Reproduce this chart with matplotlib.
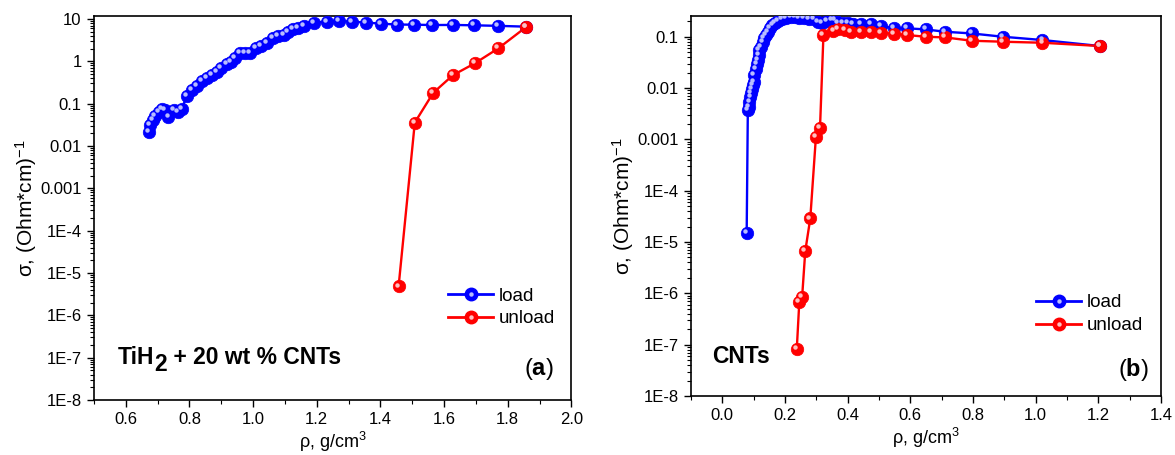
import numpy as np
import matplotlib
matplotlib.use("Agg")
import matplotlib.pyplot as plt
from matplotlib.ticker import FixedLocator, FuncFormatter, MultipleLocator, LogLocator, NullFormatter
from matplotlib.transforms import ScaledTranslation
from matplotlib.lines import Line2D
from matplotlib.legend_handler import HandlerTuple

plt.rcParams['font.family'] = ['Liberation Sans', 'DejaVu Sans']
plt.rcParams['mathtext.fontset'] = 'custom'
plt.rcParams['mathtext.rm'] = 'Liberation Sans'
plt.rcParams['mathtext.it'] = 'Liberation Sans:italic'
plt.rcParams['mathtext.bf'] = 'Liberation Sans:bold'

# ---- (a) TiH2 + 20 wt % CNTs ----
rho_a_load = [0.672, 0.677, 0.684, 0.692, 0.703, 0.713, 0.722, 0.734, 0.750, 0.763,
              0.776, 0.791, 0.807, 0.823, 0.838, 0.854, 0.870, 0.885, 0.899, 0.917,
              0.930, 0.942, 0.958, 0.974, 0.989, 1.010, 1.026, 1.042, 1.062, 1.078,
              1.097, 1.109, 1.125, 1.141, 1.159, 1.190, 1.232, 1.271, 1.310, 1.355,
              1.403, 1.452, 1.506, 1.563, 1.627, 1.694, 1.768, 1.857]
sig_a_load = [0.0218, 0.0313, 0.041, 0.051, 0.0646, 0.0748, 0.0708, 0.0492, 0.0708, 0.0646,
              0.0736, 0.152, 0.21, 0.261, 0.343, 0.41, 0.475, 0.569, 0.684, 0.865,
              0.98, 1.18, 1.55, 1.6, 1.55, 2.03, 2.3, 2.67, 3.5, 3.97,
              4.19, 5.0, 5.7, 6.03, 6.84, 8.18, 8.6, 9.0, 8.6, 8.25,
              7.75, 7.4, 7.35, 7.2, 7.25, 7.1, 6.9, 6.6]
rho_a_unload = [1.457, 1.508, 1.566, 1.628, 1.696, 1.770, 1.857]
sig_a_unload = [4.8e-6, 0.0359, 0.181, 0.473, 0.893, 2.02, 6.4]

# ---- (b) CNTs ----
rho_b_load = [0.078, 0.0817, 0.0848, 0.087, 0.0901, 0.0922, 0.0954, 0.0975, 0.1006, 0.1027,
              0.108, 0.110, 0.1131, 0.1163, 0.1185, 0.1238, 0.1289, 0.1342, 0.1396, 0.1446,
              0.1522, 0.1604, 0.1689, 0.1793, 0.1919, 0.2045, 0.2183, 0.2319, 0.2445, 0.2602,
              0.2759, 0.2917, 0.3053, 0.3179, 0.3337, 0.3494, 0.360, 0.3704, 0.3862, 0.402,
              0.4178, 0.444, 0.476, 0.507, 0.549, 0.591, 0.649, 0.712, 0.796, 0.896,
              1.022, 1.205]
sig_b_load = [1.5e-5, 0.00372, 0.00432, 0.0054, 0.00659, 0.00788, 0.00944, 0.0114, 0.0133, 0.0179,
              0.0231, 0.0294, 0.0351, 0.044, 0.055, 0.0638, 0.08, 0.093, 0.108, 0.125,
              0.146, 0.169, 0.188, 0.205, 0.221, 0.235, 0.24, 0.24, 0.235, 0.229,
              0.221, 0.221, 0.196, 0.188, 0.202, 0.21, 0.21, 0.188, 0.182, 0.182,
              0.177, 0.177, 0.177, 0.162, 0.146, 0.146, 0.139, 0.125, 0.116, 0.1,
              0.0863, 0.066]
rho_b_unload = [0.238, 0.246, 0.255, 0.265, 0.281, 0.299, 0.312, 0.323, 0.355, 0.370,
                0.392, 0.412, 0.444, 0.476, 0.507, 0.549, 0.591, 0.649, 0.712, 0.796,
                0.896, 1.022, 1.205]
sig_b_unload = [8.4e-8, 6.83e-7, 8.55e-7, 6.65e-6, 2.88e-5, 0.00112, 0.00164, 0.108, 0.131, 0.139,
                0.135, 0.125, 0.125, 0.125, 0.12, 0.113, 0.108, 0.1, 0.097, 0.0836,
                0.08, 0.0764, 0.066]

series_labels = ["load", "unload"]
BLUE, RED = "#0000ff", "#ff0000"
BLUE_HI, RED_HI = "#b8bcff", "#ffc0c0"

fig = plt.figure(figsize=(11.75, 4.55), dpi=100)
ax_a = fig.add_axes([0.0800, 0.1209, 0.4063, 0.844])
ax_b = fig.add_axes([0.588, 0.1297, 0.4000, 0.835])

MS = 9


def ball_series(ax, x, y, color, hi):
    ax.plot(x, y, '-', color=color, lw=1.7, zorder=2)
    ax.plot(x, y, 'o', ls='none', ms=MS, color=color, mec=color, mew=0.5, zorder=3)
    shift = ax.transData + ScaledTranslation(-1.4 / 72, 1.4 / 72, fig.dpi_scale_trans)
    ax.plot(x, y, 'o', ls='none', ms=3.2, color=hi, mec='none', transform=shift, zorder=4)


def fmt_log(v, pos):
    e = int(round(np.log10(v)))
    if e >= 1:
        return "%d" % (10 ** e)
    if e == 0:
        return "1"
    if e >= -3:
        return ("%." + str(-e) + "f") % (10.0 ** e)
    return "1E%d" % e


def style_axes(ax, xlim, ylim, xmaj):
    ax.set_yscale('log')
    ax.set_xlim(*xlim)
    ax.set_ylim(*ylim)
    ax.xaxis.set_major_locator(MultipleLocator(xmaj))
    ax.xaxis.set_minor_locator(MultipleLocator(xmaj / 2))
    ax.xaxis.set_major_formatter(FuncFormatter(lambda v, p: "%.1f" % v))
    ax.yaxis.set_major_locator(FixedLocator([10.0 ** e for e in range(-8, 2)]))
    ax.yaxis.set_minor_locator(LogLocator(base=10, subs=np.arange(2, 10), numticks=30))
    ax.yaxis.set_major_formatter(FuncFormatter(fmt_log))
    ax.yaxis.set_minor_formatter(NullFormatter())
    ax.tick_params(which='major', direction='out', length=5, width=1.0, labelsize=12,
                   top=False, right=False, pad=4)
    ax.tick_params(which='minor', direction='out', length=3, width=0.8, top=False, right=False)
    for s in ax.spines.values():
        s.set_linewidth(1.2)
    ax.set_xlabel(r"ρ, g/cm$^3$", fontsize=13, labelpad=2)
    ax.set_ylabel(r"σ, (Ohm*cm)$^{-1}$", fontsize=15, labelpad=1)


def add_legend(ax, anchor):
    h_load = (Line2D([], [], color=BLUE, lw=2, marker='o', ms=MS, mec=BLUE),
              Line2D([], [], ls='none', marker='o', ms=3.2, color=BLUE_HI, mec='none'))
    h_unl = (Line2D([], [], color=RED, lw=2, marker='o', ms=MS, mec=RED),
             Line2D([], [], ls='none', marker='o', ms=3.2, color=RED_HI, mec='none'))
    ax.legend([h_load, h_unl], series_labels, handler_map={tuple: HandlerTuple(ndivide=1, pad=0)},
              loc='center left', bbox_to_anchor=anchor, frameon=False, fontsize=13.5,
              handlelength=2.4, handletextpad=0.3, labelspacing=0.3, borderpad=0, borderaxespad=0)


# panel (a)
ball_series(ax_a, rho_a_load, sig_a_load, BLUE, BLUE_HI)
ball_series(ax_a, rho_a_unload, sig_a_unload, RED, RED_HI)
style_axes(ax_a, (0.5, 2.0), (1e-8, 11.8), 0.2)
add_legend(ax_a, (0.742, 0.241))

t1 = ax_a.text(0.049, 0.094, "TiH", transform=ax_a.transAxes, fontsize=16.5,
               fontweight='bold', va='baseline', ha='left')
t2 = ax_a.annotate("2", xy=(1, 0), xycoords=t1, xytext=(0, -5), textcoords='offset points',
                   fontsize=16.5, fontweight='bold', va='bottom', ha='left')
ax_a.annotate(" + 20 wt % CNTs", xy=(1, 0), xycoords=t2, xytext=(0, 5), textcoords='offset points',
              fontsize=16.5, fontweight='bold', va='bottom', ha='left')
ax_a.text(0.963, 0.065, r"($\mathbf{a}$)", transform=ax_a.transAxes, fontsize=17,
          ha='right', va='baseline')

# panel (b)
ball_series(ax_b, rho_b_load, sig_b_load, BLUE, BLUE_HI)
ball_series(ax_b, rho_b_unload, sig_b_unload, RED, RED_HI)
style_axes(ax_b, (-0.1, 1.4), (1e-8, 0.253), 0.2)
add_legend(ax_b, (0.735, 0.215))
ax_b.text(0.045, 0.087, "CNTs", transform=ax_b.transAxes, fontsize=16.5,
          fontweight='bold', va='baseline', ha='left')
ax_b.text(0.975, 0.053, r"($\mathbf{b}$)", transform=ax_b.transAxes, fontsize=17,
          ha='right', va='baseline')

fig.savefig("out.png", dpi=100)
